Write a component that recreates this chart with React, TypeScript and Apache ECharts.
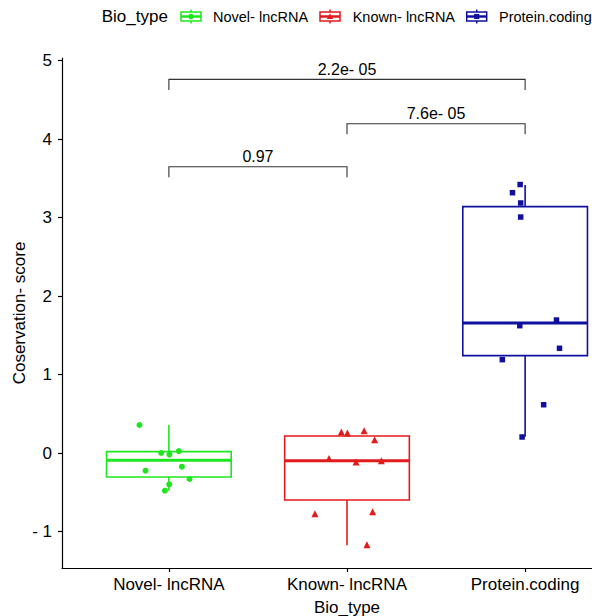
import React, { useEffect, useRef } from "react";
import * as echarts from "echarts";

const categories = ["Novel- lncRNA", "Known- lncRNA", "Protein.coding"];
const groupColors = ["#1EE61E", "#E31A1C", "#10109E"];
const groupSymbols = ["circle", "triangle", "rect"];

// jittered points: value and horizontal jitter offset (in category units)
const novelValues = [0.357, 0.0, -0.02, 0.025, -0.225, -0.174, -0.331, -0.4, -0.48];
const novelJitter = [-0.165, -0.043, 0.003, 0.056, -0.131, 0.073, 0.116, 0.002, -0.022];
const knownValues = [0.268, 0.255, 0.284, 0.17, -0.07, -0.115, -0.1, -0.773, -0.75, -1.168];
const knownJitter = [-0.032, 0.002, 0.096, 0.155, -0.101, 0.051, 0.193, -0.18, 0.144, 0.112];
const proteinValues = [3.42, 3.316, 3.185, 3.006, 1.694, 1.622, 1.334, 1.189, 0.615, 0.204];
const proteinJitter = [-0.028, -0.071, -0.025, -0.025, 0.176, -0.03, 0.193, -0.128, 0.104, -0.017];

// box statistics
const boxLow = [-0.48, -1.176, 0.208];
const boxQ1 = [-0.306, -0.599, 1.24];
const boxMedian = [-0.093, -0.098, 1.656];
const boxQ3 = [0.017, 0.217, 3.138];
const boxHigh = [0.357, 0.217, 3.414];

// comparison brackets
const bracketFrom = [0, 1, 0];
const bracketTo = [1, 2, 2];
const bracketY = [3.647, 4.195, 4.76];
const bracketLabels = ["0.97", "7.6e- 05", "2.2e- 05"];

const yTicks = [-1, 0, 1, 2, 3, 4, 5];

const FONT = "Liberation Sans, Arial, Helvetica, sans-serif";

export default function App() {
  const ref = useRef<HTMLDivElement>(null);

  useEffect(() => {
    if (!ref.current) return;
    const chart = echarts.init(ref.current, null, { renderer: "svg" });

    const pointSets = [
      novelValues.map((v, i) => [0 + novelJitter[i], v]),
      knownValues.map((v, i) => [1 + knownJitter[i], v]),
      proteinValues.map((v, i) => [2 + proteinJitter[i], v]),
    ];

    const boxData = categories.map((_, i) => [i, boxLow[i], boxQ1[i], boxMedian[i], boxQ3[i], boxHigh[i]]);
    const bracketData = bracketFrom.map((f, i) => [f, bracketTo[i], bracketY[i], i]);
    const boxHalf = 0.35;
    const legDrop = 0.135;

    // legend drawn as graphic
    const legendKeys = [
      { cx: 191, tx: 213 },
      { cx: 330, tx: 352.7 },
      { cx: 476.7, tx: 499 },
    ];
    const legendGraphics: any[] = [
      {
        type: "text",
        x: 101.7,
        y: 16.7,
        style: { text: "Bio_type", font: `17px ${FONT}`, fill: "#000", verticalAlign: "middle", align: "left" },
      },
    ];
    legendKeys.forEach((k, i) => {
      const c = groupColors[i];
      const kids: any[] = [
        { type: "line", shape: { x1: k.cx, y1: 9.5, x2: k.cx, y2: 23.5 }, style: { stroke: c, lineWidth: 1.5 } },
        { type: "rect", shape: { x: k.cx - 10, y: 12, width: 20, height: 9 }, style: { fill: "#fff", stroke: c, lineWidth: 1.5 } },
        { type: "line", shape: { x1: k.cx - 10, y1: 16.5, x2: k.cx + 10, y2: 16.5 }, style: { stroke: c, lineWidth: 2.5 } },
      ];
      if (i === 0) kids.push({ type: "circle", shape: { cx: k.cx, cy: 16.5, r: 2.8 }, style: { fill: c } });
      if (i === 1)
        kids.push({
          type: "polygon",
          shape: { points: [[k.cx - 3.2, 19], [k.cx + 3.2, 19], [k.cx, 13.4]] },
          style: { fill: c },
        });
      if (i === 2) kids.push({ type: "rect", shape: { x: k.cx - 2.6, y: 13.9, width: 5.2, height: 5.2 }, style: { fill: c } });
      legendGraphics.push({ type: "group", children: kids });
      legendGraphics.push({
        type: "text",
        x: k.tx,
        y: 16.7,
        style: { text: categories[i], font: `14.5px ${FONT}`, fill: "#000", verticalAlign: "middle", align: "left" },
      });
    });

    const option: any = {
      animation: false,
      backgroundColor: "#fff",
      grid: { left: 62, top: 58, bottom: 48, right: 0, containLabel: false, outerBoundsMode: "none" },
      xAxis: {
        type: "value",
        min: -0.6,
        max: 2.6,
        splitLine: { show: false },
        axisLine: { show: true, onZero: false, lineStyle: { color: "#000", width: 1.2 } },
        axisTick: { show: true, length: 4, customValues: [0, 1, 2], lineStyle: { color: "#000", width: 1.2 } },
        axisLabel: {
          customValues: [0, 1, 2],
          formatter: (v: number) => categories[Math.round(v)] ?? "",
          color: "#000",
          fontSize: 17,
          fontFamily: FONT,
          margin: 8,
        },
        name: "Bio_type",
        nameLocation: "middle",
        nameGap: 31,
        nameMoveOverlap: false,
        nameTextStyle: { color: "#000", fontSize: 17, fontFamily: FONT },
      },
      yAxis: {
        type: "value",
        min: -1.465,
        max: 5.032,
        splitLine: { show: false },
        axisLine: { show: true, onZero: false, lineStyle: { color: "#000", width: 1.2 } },
        axisTick: { show: true, length: 4, customValues: yTicks, lineStyle: { color: "#000", width: 1.2 } },
        axisLabel: {
          customValues: yTicks,
          formatter: (v: number) => (v < 0 ? "- " + Math.abs(v) : String(v)),
          color: "#000",
          fontSize: 17,
          fontFamily: FONT,
          margin: 10,
        },
        name: "Coservation- score",
        nameLocation: "middle",
        nameRotate: 90,
        nameGap: 34,
        nameMoveOverlap: false,
        nameTextStyle: { color: "#000", fontSize: 17, fontFamily: FONT },
      },
      graphic: legendGraphics,
      series: [
        {
          type: "custom",
          name: "boxes",
          data: boxData,
          encode: { x: 0, y: [1, 2, 3, 4, 5] },
          z: 2,
          renderItem: (params: any, api: any) => {
            const x = api.value(0);
            const low = api.value(1);
            const q1 = api.value(2);
            const med = api.value(3);
            const q3 = api.value(4);
            const high = api.value(5);
            const color = groupColors[params.dataIndex];
            const [xl, yq3] = api.coord([x - boxHalf, q3]);
            const [xr, yq1] = api.coord([x + boxHalf, q1]);
            const [xc, yHigh] = api.coord([x, high]);
            const yLow = api.coord([x, low])[1];
            const yMed = api.coord([x, med])[1];
            return {
              type: "group",
              children: [
                { type: "line", shape: { x1: xc, y1: yHigh, x2: xc, y2: yq3 }, style: { stroke: color, lineWidth: 1.6 } },
                { type: "line", shape: { x1: xc, y1: yq1, x2: xc, y2: yLow }, style: { stroke: color, lineWidth: 1.6 } },
                {
                  type: "rect",
                  shape: { x: xl, y: yq3, width: xr - xl, height: yq1 - yq3 },
                  style: { fill: "#fff", stroke: color, lineWidth: 1.6 },
                },
                { type: "line", shape: { x1: xl, y1: yMed, x2: xr, y2: yMed }, style: { stroke: color, lineWidth: 3 } },
              ],
            };
          },
        },
        {
          type: "custom",
          name: "brackets",
          data: bracketData,
          encode: { x: [0, 1], y: 2 },
          z: 2,
          renderItem: (params: any, api: any) => {
            const x1 = api.value(0);
            const x2 = api.value(1);
            const y = api.value(2);
            const idx = api.value(3);
            const p1 = api.coord([x1, y - legDrop]);
            const p2 = api.coord([x1, y]);
            const p3 = api.coord([x2, y]);
            const p4 = api.coord([x2, y - legDrop]);
            const mid = api.coord([(x1 + x2) / 2, y]);
            return {
              type: "group",
              children: [
                { type: "polyline", shape: { points: [p1, p2, p3, p4] }, style: { stroke: "#333", lineWidth: 1.1, fill: "none" } },
                {
                  type: "text",
                  x: mid[0],
                  y: mid[1] - 2,
                  style: {
                    text: bracketLabels[idx],
                    font: `16px ${FONT}`,
                    fill: "#000",
                    align: "center",
                    verticalAlign: "bottom",
                  },
                },
              ],
            };
          },
        },
        ...pointSets.map((pts, i) => ({
          type: "scatter",
          name: categories[i],
          data: pts,
          symbol: groupSymbols[i],
          symbolSize: i === 2 ? 5.5 : i === 1 ? 7 : 6,
          itemStyle: { color: groupColors[i], opacity: 1 },
          z: 5,
        })),
      ],
    };

    chart.setOption(option);
    return () => chart.dispose();
  }, []);

  return (
    <div style={{ position: "absolute", left: 0, top: 0, width: 592, height: 616, overflow: "hidden" }}>
      <div ref={ref} style={{ position: "absolute", left: 0, top: 0, width: 631.6, height: 616 }} />
    </div>
  );
}
